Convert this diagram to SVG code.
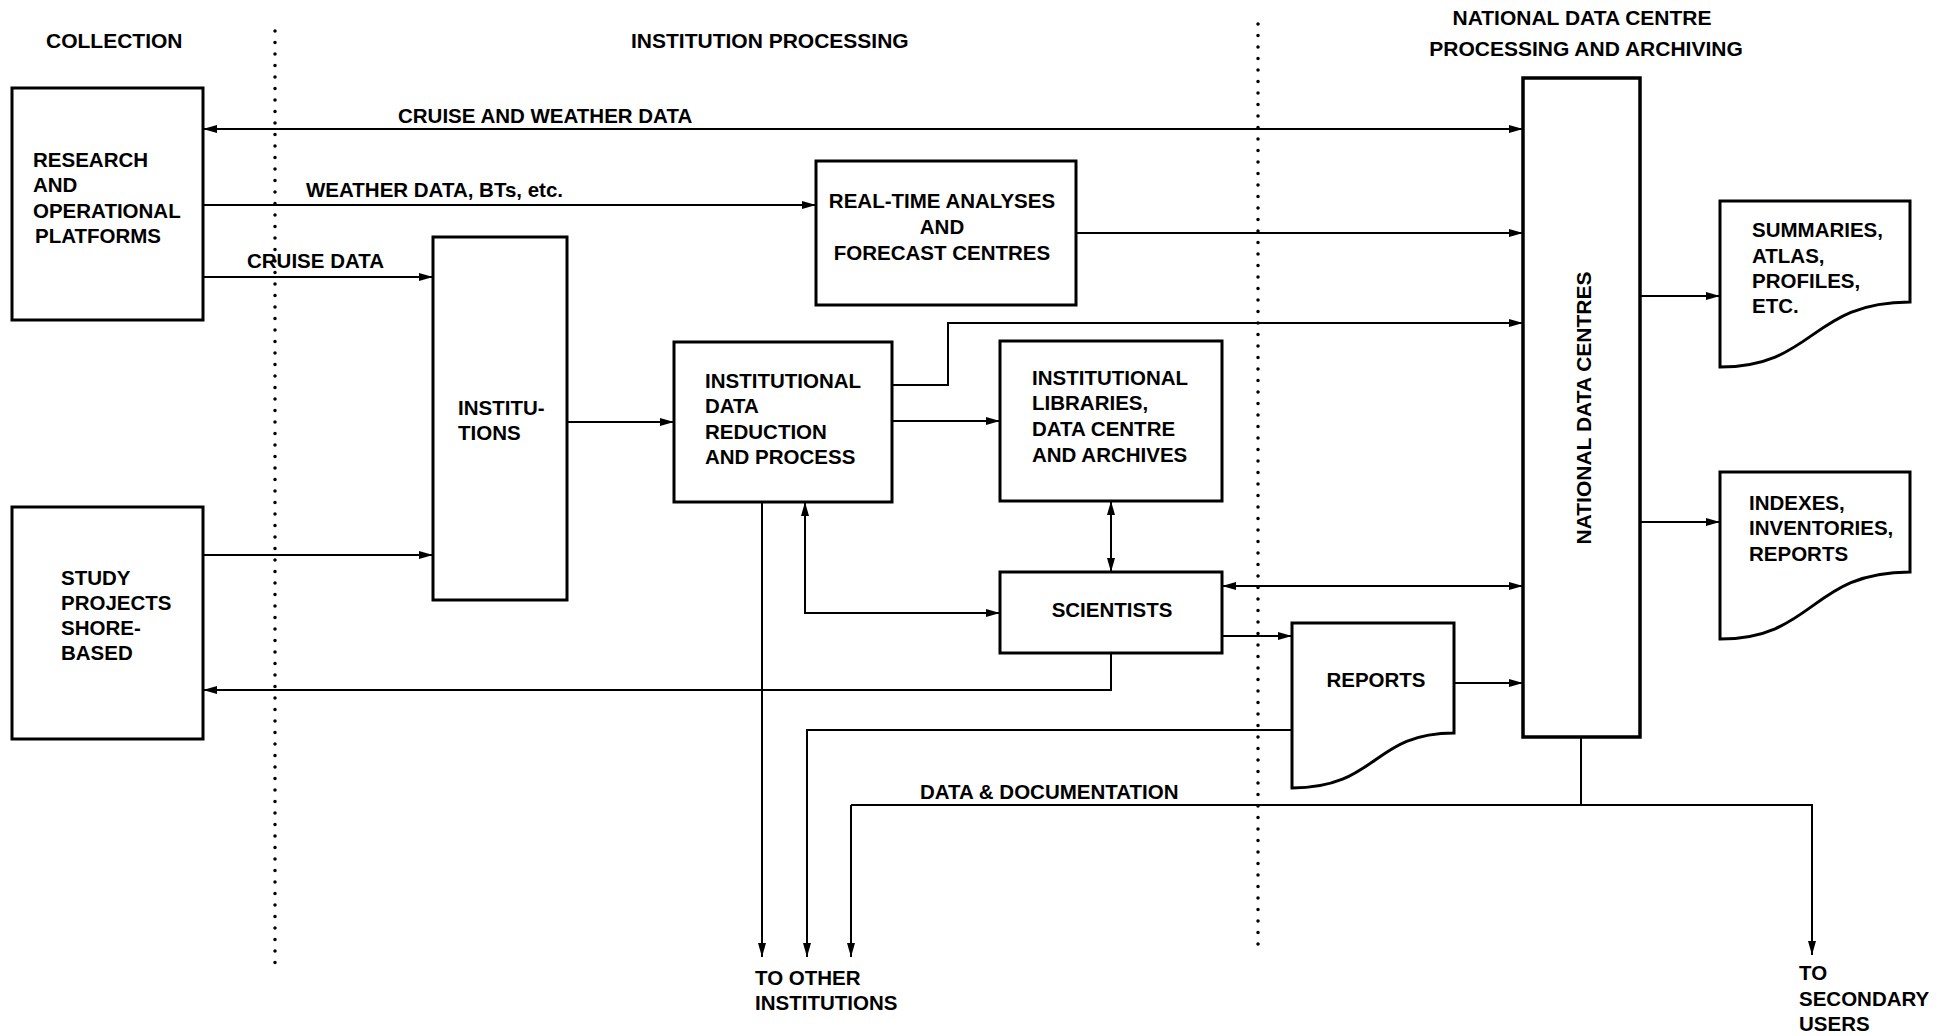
<svg xmlns="http://www.w3.org/2000/svg" width="1953" height="1036" viewBox="0 0 1953 1036">
<defs>
<marker id="arr" viewBox="0 0 14 8" refX="14" refY="4" markerWidth="14" markerHeight="8" markerUnits="userSpaceOnUse" orient="auto-start-reverse">
<path d="M0,0 L14,4 L0,8 z" fill="#000"/>
</marker>
<style>
.t{font-family:"Liberation Sans",Arial,Helvetica,sans-serif;font-weight:bold;font-size:20.5px;fill:#000}
.h{font-family:"Liberation Sans",Arial,Helvetica,sans-serif;font-weight:bold;font-size:21px;fill:#000}
.box{fill:#fff;stroke:#000;stroke-width:3}
.c{fill:none;stroke:#000;stroke-width:2}
.ae{marker-end:url(#arr)}
.ab{marker-start:url(#arr);marker-end:url(#arr)}
.dot{fill:none;stroke:#000;stroke-width:3.5;stroke-linecap:round;stroke-dasharray:0 11.5}
</style>
</defs>
<rect width="1953" height="1036" fill="#fff"/>

<g id="headers">
<text class="h" x="46" y="48">COLLECTION</text>
<text class="h" x="631" y="48">INSTITUTION PROCESSING</text>
<text class="h" x="1582" y="25" text-anchor="middle">NATIONAL DATA CENTRE</text>
<text class="h" x="1586" y="56" text-anchor="middle">PROCESSING AND ARCHIVING</text>
</g>

<g id="dividers">
<line class="dot" x1="275" y1="31" x2="275" y2="971"/>
<line class="dot" x1="1258" y1="24" x2="1258" y2="955"/>
</g>

<g id="connectors">
<path class="c ab" d="M203,129 H1523"/>
<path class="c ae" d="M203,205 H816"/>
<path class="c ae" d="M1076,233 H1523"/>
<path class="c ae" d="M203,277 H433"/>
<path class="c ae" d="M203,555 H433"/>
<path class="c ae" d="M567,422 H674"/>
<path class="c ae" d="M892,385 H948 V323 H1523"/>
<path class="c ae" d="M892,421 H1000"/>
<path class="c ab" d="M1111,501 V572"/>
<path class="c ab" d="M805,502 V613 H1000"/>
<path class="c ab" d="M1222,586 H1523"/>
<path class="c ae" d="M1222,636 H1292"/>
<path class="c ae" d="M1454,683 H1523"/>
<path class="c ae" d="M1111,653 V690 H203"/>
<path class="c ae" d="M762,502 V957"/>
<path class="c ae" d="M1292,730 H807 V957"/>
<path class="c" d="M1581,737 V805"/>
<path class="c ae" d="M851,805 V957"/>
<path class="c ae" d="M851,805 H1812 V955"/>
<text class="t" x="398" y="123">CRUISE AND WEATHER DATA</text>
<text class="t" x="306" y="197">WEATHER DATA, BTs, etc.</text>
<text class="t" x="247" y="268">CRUISE DATA</text>
<text class="t" x="920" y="799">DATA &amp; DOCUMENTATION</text>
<text class="t" x="755" y="985">TO OTHER</text>
<text class="t" x="755" y="1010">INSTITUTIONS</text>
<text class="t" x="1799" y="980">TO</text>
<text class="t" x="1799" y="1006">SECONDARY</text>
<text class="t" x="1799" y="1031">USERS</text>
</g>

<g id="research">
<rect class="box" x="12" y="88" width="191" height="232"/>
<text class="t" x="33" y="167">RESEARCH</text>
<text class="t" x="33" y="192">AND</text>
<text class="t" x="33" y="218">OPERATIONAL</text>
<text class="t" x="35" y="243">PLATFORMS</text>
</g>

<g id="study">
<rect class="box" x="12" y="507" width="191" height="232"/>
<text class="t" x="61" y="585">STUDY</text>
<text class="t" x="61" y="610">PROJECTS</text>
<text class="t" x="61" y="635">SHORE-</text>
<text class="t" x="61" y="660">BASED</text>
</g>

<g id="institutions">
<rect class="box" x="433" y="237" width="134" height="363"/>
<text class="t" x="458" y="415">INSTITU-</text>
<text class="t" x="458" y="440">TIONS</text>
</g>

<g id="realtime">
<rect class="box" x="816" y="161" width="260" height="144"/>
<text class="t" x="942" y="208" text-anchor="middle">REAL-TIME ANALYSES</text>
<text class="t" x="942" y="234" text-anchor="middle">AND</text>
<text class="t" x="942" y="260" text-anchor="middle">FORECAST CENTRES</text>
</g>

<g id="idrp">
<rect class="box" x="674" y="342" width="218" height="160"/>
<text class="t" x="705" y="388">INSTITUTIONAL</text>
<text class="t" x="705" y="413">DATA</text>
<text class="t" x="705" y="439">REDUCTION</text>
<text class="t" x="705" y="464">AND PROCESS</text>
</g>

<g id="libraries">
<rect class="box" x="1000" y="341" width="222" height="160"/>
<text class="t" x="1032" y="385">INSTITUTIONAL</text>
<text class="t" x="1032" y="410">LIBRARIES,</text>
<text class="t" x="1032" y="436">DATA CENTRE</text>
<text class="t" x="1032" y="462">AND ARCHIVES</text>
</g>

<g id="scientists">
<rect class="box" x="1000" y="572" width="222" height="81"/>
<text class="t" x="1112" y="617" text-anchor="middle">SCIENTISTS</text>
</g>

<g id="reports">
<path class="box" d="M1292,623 H1454 V733 C1372,733 1378,788 1292,788 Z"/>
<text class="t" x="1376" y="687" text-anchor="middle">REPORTS</text>
</g>

<g id="ndc">
<rect class="box" x="1523" y="78" width="117" height="659" style="stroke-width:3.5"/>
<text class="h" transform="translate(1591,408) rotate(-90)" text-anchor="middle">NATIONAL DATA CENTRES</text>
</g>

<g id="summaries">
<path class="box" d="M1720,201 H1910 V302 C1810,302 1815,367 1720,367 Z"/>
<text class="t" x="1752" y="237">SUMMARIES,</text>
<text class="t" x="1752" y="263">ATLAS,</text>
<text class="t" x="1752" y="288">PROFILES,</text>
<text class="t" x="1752" y="313">ETC.</text>
</g>

<g id="indexes">
<path class="box" d="M1720,472 H1910 V572 C1810,572 1815,639 1720,639 Z"/>
<text class="t" x="1749" y="510">INDEXES,</text>
<text class="t" x="1749" y="535">INVENTORIES,</text>
<text class="t" x="1749" y="561">REPORTS</text>
</g>

<g id="ndc-outputs">
<path class="c ae" d="M1640,296 H1720"/>
<path class="c ae" d="M1640,522 H1720"/>
</g>
</svg>
